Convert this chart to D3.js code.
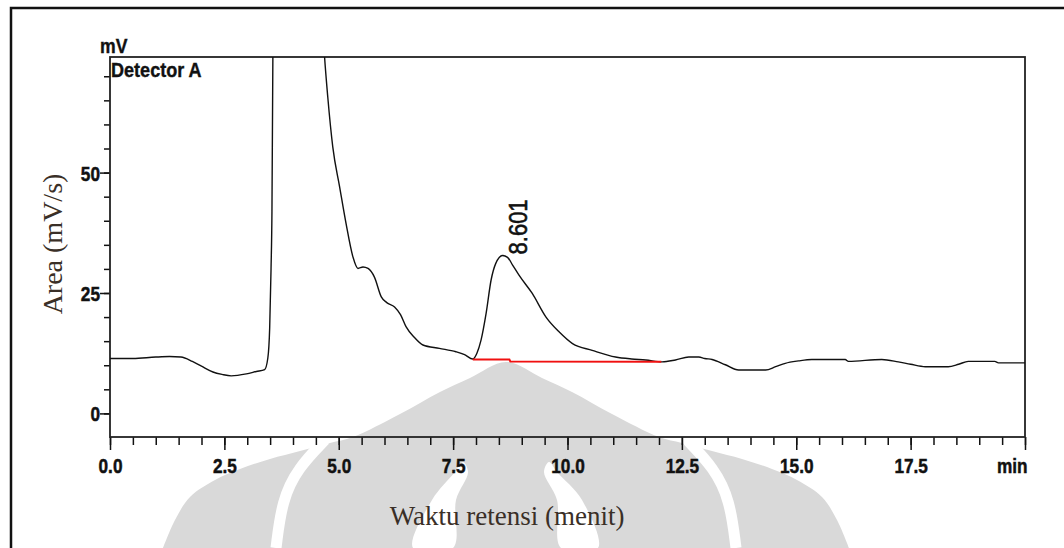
<!DOCTYPE html>
<html>
<head>
<meta charset="utf-8">
<script src="https://cdn.jsdelivr.net/npm/d3@7"></script>
<style>
  body { margin: 0; background: #fff; }
  svg { display: block; }
  .tick text { font-family: "Liberation Sans", Arial, sans-serif; font-weight: bold; font-size: 21px; fill: #111; stroke: #111; stroke-width: 0.5; }
  .narrow { font-family: "Liberation Sans", Arial, sans-serif; font-weight: bold; fill: #111; stroke: #111; stroke-width: 0.4; }
  .serif { font-family: "Liberation Serif", "Times New Roman", serif; fill: #3a2f27; }
</style>
</head>
<body>
<svg id="chart" width="1064" height="548"></svg>
<script>
// chromatogram trace (min, mV)
const retTime = [0, 0.5, 1.0, 1.3, 1.55, 1.8, 2.0, 2.25, 2.45, 2.65, 2.98, 3.2, 3.38, 3.45, 3.49, 3.52, 3.54, 3.56, 3.57,
  4.65, 4.69, 4.76, 4.87, 5.02, 5.16, 5.31, 5.42, 5.53, 5.64, 5.78, 5.93, 6.05, 6.22, 6.35, 6.47, 6.65, 6.84, 7.2, 7.56, 7.75, 7.93,
  8.02, 8.11, 8.22, 8.33, 8.43, 8.58, 8.69, 8.8, 8.94, 9.23, 9.53, 9.82, 10.11, 10.54, 11.05, 11.4, 11.71, 12.07, 12.36, 12.65,
  12.87, 13.0, 13.16, 13.45, 13.74, 14.33, 14.55, 14.76, 15.05, 15.34, 16.07, 16.14, 16.87, 17.23, 17.5, 17.82, 18.32, 18.55,
  18.76, 19.34, 19.42, 20];
const signal = [11.4, 11.4, 11.7, 11.8, 11.7, 10.8, 9.8, 8.6, 8.1, 7.8, 8.2, 8.7, 9.1, 11.5, 17.7, 30, 42, 74, 95,
  80, 74, 65.7, 55.3, 47, 39.4, 32.5, 30.1, 30.4, 30.1, 28.3, 24.2, 23, 22.1, 20.5, 18.0, 15.8, 14.2, 13.5, 12.8, 12.2, 11.3,
  12.5, 15.2, 20.7, 27.7, 31.1, 32.8, 32.4, 30.8, 28.7, 24.9, 20.0, 16.9, 14.5, 13.1, 11.7, 11.3, 11.1, 10.7, 11.1, 11.7,
  11.7, 11.4, 11.2, 10.1, 9.0, 9.0, 9.7, 10.4, 10.9, 11.2, 11.2, 10.8, 11.2, 10.7, 10.2, 9.7, 9.7, 10.2,
  10.8, 10.8, 10.5, 10.5];

// integration baseline of the labelled peak
const baseTime = [7.93, 8.73, 8.75, 12.05];
const baseValue = [11.2, 11.2, 10.8, 10.7];
const peakTime = 8.601, peakValue = 32.8, peakLabel = "8.601";

const xMajor = [0, 2.5, 5, 7.5, 10, 12.5, 15, 17.5, 20];
const xLabels = ["0.0", "2.5", "5.0", "7.5", "10.0", "12.5", "15.0", "17.5", "min"];
const xMinor = d3.range(0, 20.01, 0.5);
const yMajor = [0, 25, 50];
const yMinor = d3.range(0, 71, 5);

const svg = d3.select("#chart");
const L = 110, R = 1025, T = 57, B = 437;
const x = d3.scaleLinear([0, 20], [L, R]);
const y = d3.scaleLinear([-4.9, 74], [B, T]);
const squeeze = 0.82; // the instrument font is a condensed bold face

// faint watermark behind the chart
const wm = svg.append("g").attr("fill", "#d9d9d9");
wm.append("path").attr("d", d3.line().curve(d3.curveCatmullRom)([
  [163, 548], [175, 520], [190, 497], [215, 480], [240, 469], [270, 459], [300, 451], [330, 443], [353, 437],
  [400, 414], [440, 392], [470, 378], [506, 362], [542, 378], [572, 392], [612, 414], [659, 437],
  [682, 443], [712, 451], [742, 459], [772, 469], [797, 480], [822, 497], [837, 520], [849, 548]]) + "Z");
const curve = d3.line().curve(d3.curveBasis);
[[[325, 440], [298, 468], [282, 500], [276, 548]], [[687, 440], [714, 468], [730, 500], [736, 548]]].forEach(s => {
  wm.append("path").attr("d", curve(s)).attr("fill", "none").attr("stroke", "#fff").attr("stroke-width", 11);
});
[[[463, 462], [455, 472], [432, 500], [413, 548], [453, 548], [456, 500], [468, 472]],
 [[549, 462], [544, 472], [557, 500], [561, 548], [598, 548], [582, 500], [557, 472]]].forEach(s => {
  wm.append("path").attr("d", d3.line().curve(d3.curveCatmullRomClosed)(s)).attr("fill", "#fff");
});

// outer frame
svg.append("path").attr("d", "M11,548V8H1064").attr("fill", "none").attr("stroke", "#111").attr("stroke-width", 2.5);

// axes
svg.append("g").attr("transform", `translate(0,${B})`)
  .call(d3.axisBottom(x).tickValues(xMinor).tickSize(8).tickFormat(""));
const xMajAxis = svg.append("g").attr("transform", `translate(0,${B})`)
  .call(d3.axisBottom(x).tickValues(xMajor).tickSize(13).tickFormat((d, i) => xLabels[i]));
xMajAxis.selectAll(".tick text").attr("y", 36).attr("dy", 0)
  .attr("transform", `scale(${squeeze},1)`)
  .attr("text-anchor", (d, i) => i === xLabels.length - 1 ? "end" : "middle")
  .attr("x", (d, i) => i === xLabels.length - 1 ? 2 / squeeze : 0);
svg.append("g").attr("transform", `translate(${L},0)`)
  .call(d3.axisLeft(y).tickValues(yMinor).tickSize(6).tickFormat(""));
const yMajAxis = svg.append("g").attr("transform", `translate(${L},0)`)
  .call(d3.axisLeft(y).tickValues(yMajor).tickSize(10).tickFormat(d3.format("d")));
yMajAxis.selectAll(".tick text").attr("x", -10 / squeeze).attr("dy", "0.36em")
  .attr("transform", `scale(${squeeze},1)`);
svg.selectAll(".domain").remove();
svg.selectAll(".tick line").attr("stroke", "#111").attr("stroke-width", 1.5);

svg.append("rect").attr("x", L).attr("y", T).attr("width", R - L).attr("height", B - T)
  .attr("fill", "none").attr("stroke", "#222").attr("stroke-width", 1.8);

// trace
svg.append("clipPath").attr("id", "plot").append("rect")
  .attr("x", L).attr("y", T).attr("width", R - L).attr("height", B - T);
const line = d3.line().x(d => x(d[0])).y(d => y(d[1])).curve(d3.curveMonotoneX);
svg.append("path").attr("clip-path", "url(#plot)")
  .attr("d", line(d3.zip(retTime, signal)))
  .attr("fill", "none").attr("stroke", "#111").attr("stroke-width", 1.4);
svg.append("path")
  .attr("d", d3.line().x(d => x(d[0])).y(d => y(d[1]))(d3.zip(baseTime, baseValue)))
  .attr("fill", "none").attr("stroke", "#f01010").attr("stroke-width", 2);

// peak label
svg.append("text")
  .attr("transform", `translate(${x(peakTime) + 24},${y(peakValue) - 1}) rotate(-90) scale(1,1.2)`)
  .style("font-family", "'Liberation Sans', Arial, sans-serif").style("font-size", "22px")
  .style("fill", "#111").style("stroke", "#111").style("stroke-width", 0.5)
  .text(peakLabel);

// texts
svg.append("text").attr("class", "narrow").attr("font-size", 21)
  .attr("transform", `translate(100,53) scale(0.84,1)`).text("mV");
svg.append("text").attr("class", "narrow").attr("font-size", 21)
  .attr("transform", `translate(111,77) scale(0.86,1)`).text("Detector A");
svg.append("text").attr("class", "serif").attr("text-anchor", "middle").attr("font-size", 27)
  .attr("x", 507).attr("y", 525).text("Waktu retensi (menit)");
svg.append("text").attr("class", "serif").attr("text-anchor", "middle").attr("font-size", 28)
  .attr("transform", "translate(62,244) rotate(-90)").text("Area (mV/s)");
</script>
</body>
</html>
